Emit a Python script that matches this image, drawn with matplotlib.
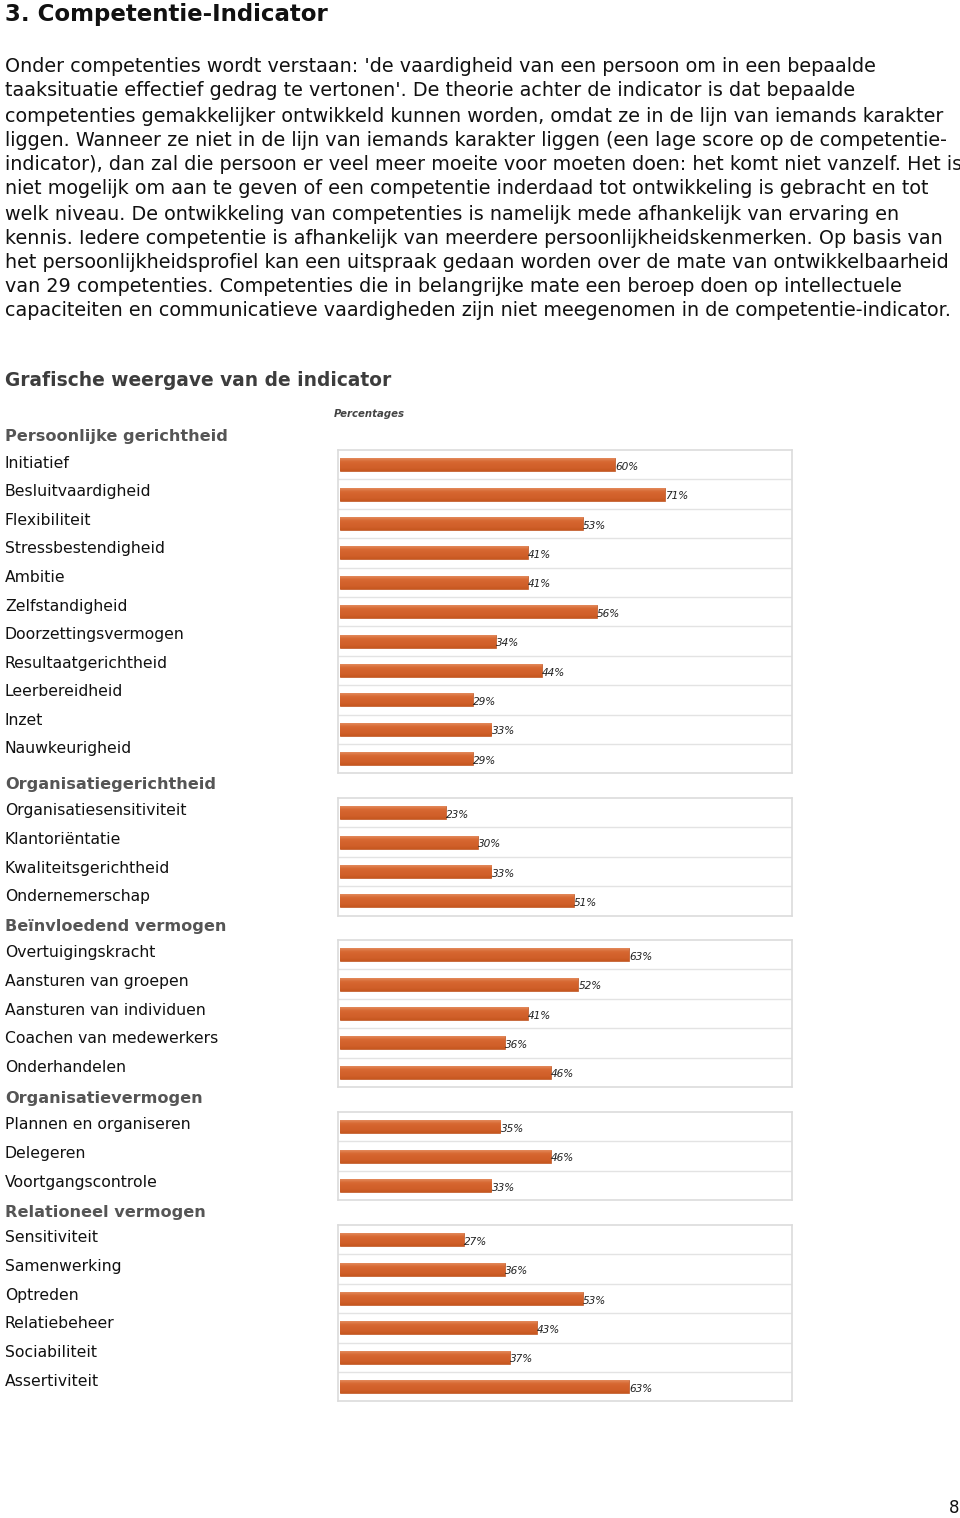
import matplotlib
matplotlib.use("Agg")
import numpy as np
import matplotlib.pyplot as plt
from matplotlib.textpath import TextPath
from matplotlib.font_manager import FontProperties
from matplotlib.colors import LinearSegmentedColormap

# ---------------- data ----------------
title = "3. Competentie-Indicator"
paragraph = [
    "Onder competenties wordt verstaan: 'de vaardigheid van een persoon om in een bepaalde",
    "taaksituatie effectief gedrag te vertonen'. De theorie achter de indicator is dat bepaalde",
    "competenties gemakkelijker ontwikkeld kunnen worden, omdat ze in de lijn van iemands karakter",
    "liggen. Wanneer ze niet in de lijn van iemands karakter liggen (een lage score op de competentie-",
    "indicator), dan zal die persoon er veel meer moeite voor moeten doen: het komt niet vanzelf. Het is",
    "niet mogelijk om aan te geven of een competentie inderdaad tot ontwikkeling is gebracht en tot",
    "welk niveau. De ontwikkeling van competenties is namelijk mede afhankelijk van ervaring en",
    "kennis. Iedere competentie is afhankelijk van meerdere persoonlijkheidskenmerken. Op basis van",
    "het persoonlijkheidsprofiel kan een uitspraak gedaan worden over de mate van ontwikkelbaarheid",
    "van 29 competenties. Competenties die in belangrijke mate een beroep doen op intellectuele",
    "capaciteiten en communicatieve vaardigheden zijn niet meegenomen in de competentie-indicator.",
]
subtitle = "Grafische weergave van de indicator"
axis_label = "Percentages"
page_number = "8"

group_names = ["Persoonlijke gerichtheid", "Organisatiegerichtheid",
               "Beïnvloedend vermogen", "Organisatievermogen", "Relationeel vermogen"]

persoonlijk_labels = ["Initiatief", "Besluitvaardigheid", "Flexibiliteit", "Stressbestendigheid",
                      "Ambitie", "Zelfstandigheid", "Doorzettingsvermogen", "Resultaatgerichtheid",
                      "Leerbereidheid", "Inzet", "Nauwkeurigheid"]
persoonlijk_values = [60, 71, 53, 41, 41, 56, 34, 44, 29, 33, 29]

organisatieger_labels = ["Organisatiesensitiviteit", "Klantoriëntatie",
                         "Kwaliteitsgerichtheid", "Ondernemerschap"]
organisatieger_values = [23, 30, 33, 51]

beinvloedend_labels = ["Overtuigingskracht", "Aansturen van groepen", "Aansturen van individuen",
                       "Coachen van medewerkers", "Onderhandelen"]
beinvloedend_values = [63, 52, 41, 36, 46]

organisatieverm_labels = ["Plannen en organiseren", "Delegeren", "Voortgangscontrole"]
organisatieverm_values = [35, 46, 33]

relationeel_labels = ["Sensitiviteit", "Samenwerking", "Optreden", "Relatiebeheer",
                      "Sociabiliteit", "Assertiviteit"]
relationeel_values = [27, 36, 53, 43, 37, 63]

groups = [
    (persoonlijk_labels, persoonlijk_values),
    (organisatieger_labels, organisatieger_values),
    (beinvloedend_labels, beinvloedend_values),
    (organisatieverm_labels, organisatieverm_values),
    (relationeel_labels, relationeel_values),
]

# ---------------- layout (pixels) ----------------
W, H, DPI = 960, 1518, 100
FAMILY = "DejaVu Sans"

def fx(x):
    return x / W

def fy(y):
    return 1 - y / H

def fit(text, target_px, weight="normal", style="normal"):
    prop = FontProperties(family=FAMILY, weight=weight, style=style)
    w = TextPath((0, 0), text, size=10, prop=prop).get_extents().width
    w_px = w * DPI / 72.0
    return 10 * target_px / w_px

fig = plt.figure(figsize=(W / DPI, H / DPI), dpi=DPI)
fig.patch.set_facecolor("white")

# Title
fig.text(fx(5), fy(15), title, fontsize=fit(title, 322, "bold"), fontweight="bold",
         family=FAMILY, color="#111111", va="center", ha="left")

# Paragraph
para_size = fit(paragraph[4], 953)
para_y = [67, 91, 116, 140, 165, 189, 214, 238, 262, 287, 311]
for line, y in zip(paragraph, para_y):
    fig.text(fx(5), fy(y), line, fontsize=para_size, family=FAMILY, color="#111111",
             va="center", ha="left")

# Subtitle
fig.text(fx(5), fy(381), subtitle, fontsize=fit(subtitle, 385, "bold"), fontweight="bold",
         family=FAMILY, color="#3d3d3d", va="center", ha="left")

# "Percentages"
fig.text(fx(334), fy(414), axis_label, fontsize=fit(axis_label, 70, "bold", "italic"),
         fontweight="bold", style="italic", family=FAMILY, color="#444444",
         va="center", ha="left")

header_size = fit("Persoonlijke gerichtheid", 219, "bold")
item_size = fit("Besluitvaardigheid", 143)
val_size = 7.6

header_y = [437, 785, 927, 1099, 1212]
label_start = [463, 811, 953, 1125, 1238]
label_step = 28.6
box_top = [450, 798, 940, 1112, 1225]
row_h = 29.4
box_left, box_right = 338, 792

grad_cmap = LinearSegmentedColormap.from_list(
    "bar", ["#E38A5C", "#D86A34", "#D3622C", "#D0602A", "#C6571F"])
grad = np.linspace(0, 1, 64).reshape(-1, 1)
edge_color = "#BE5421"
grid_color = "#E3E3E3"

for gname, (labels, values), hy, ly, bt in zip(group_names, groups, header_y, label_start, box_top):
    fig.text(fx(5), fy(hy), gname, fontsize=header_size, fontweight="bold",
             family=FAMILY, color="#555555", va="center", ha="left")
    for i, lab in enumerate(labels):
        fig.text(fx(5), fy(ly + i * label_step), lab, fontsize=item_size, family=FAMILY,
                 color="#111111", va="center", ha="left")

    n = len(values)
    h = n * row_h
    ax = fig.add_axes([fx(box_left), fy(bt + h), (box_right - box_left) / W, h / H])
    bars = ax.barh(range(n), values, height=0.44, color="#D2602A", edgecolor=edge_color,
                   linewidth=0.5, left=0, zorder=2)
    for b in bars:
        x0, y0 = b.get_x(), b.get_y()
        bw, bh = b.get_width(), b.get_height()
        # y axis is inverted: y0 is the visual top of the bar
        im = ax.imshow(grad, cmap=grad_cmap, aspect="auto",
                       extent=[x0, x0 + bw, y0 + bh, y0], origin="upper", zorder=3)
        im.set_clip_path(b)
    ax.set_xlim(-0.5, 98.7)
    ax.set_ylim(n - 0.5, -0.5)
    for i in range(n - 1):
        ax.axhline(i + 0.5, color=grid_color, linewidth=1.0, zorder=1)
    for i, v in enumerate(values):
        ax.text(v + 0.05, i + 0.07, f"{v}%", fontsize=val_size, style="italic",
                family=FAMILY, color="#222222", va="center", ha="left", zorder=4)
    ax.set_xticks([])
    ax.set_yticks([])
    for sp in ax.spines.values():
        sp.set_color("#DCDCDC")
        sp.set_linewidth(1.2)

# Page number
fig.text(fx(954), fy(1508), page_number, fontsize=12, family=FAMILY,
         color="#111111", va="center", ha="center")

fig.savefig("out.png", dpi=DPI, facecolor="white")
